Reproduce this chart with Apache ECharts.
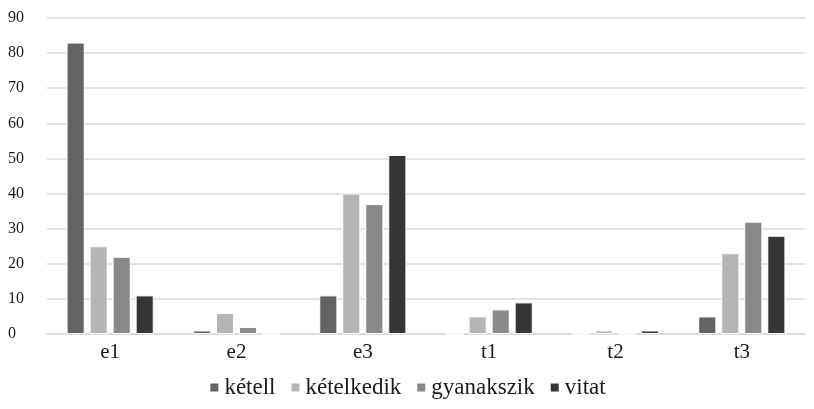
<!DOCTYPE html>
<html>
<head>
<meta charset="utf-8">
<script src="https://cdn.jsdelivr.net/npm/echarts@6/dist/echarts.min.js"></script>
<style>
  html, body { margin: 0; padding: 0; background: #fff; }
  #chart { width: 814px; height: 409px; }
</style>
</head>
<body>
<div id="chart"></div>
<script>
// Categories and per-series counts
const categories = ['e1', 'e2', 'e3', 't1', 't2', 't3'];
const seriesNames = ['kétell', 'kételkedik', 'gyanakszik', 'vitat'];
const ketell = [83, 1, 11, 0, 0, 5];
const ketelkedik = [25, 6, 40, 5, 1, 23];
const gyanakszik = [22, 2, 37, 7, 0, 32];
const vitat = [11, 0, 51, 9, 1, 28];
const yTicks = [0, 10, 20, 30, 40, 50, 60, 70, 80, 90];

const values = [ketell, ketelkedik, gyanakszik, vitat];
const colors = ['#636363', '#b5b5b5', '#898989', '#363636'];
const font = 'Liberation Serif';

const chart = echarts.init(document.getElementById('chart'));
chart.setOption({
  animation: false,
  textStyle: { fontFamily: font },
  grid: { left: 47, right: 9, top: 18, bottom: 75, containLabel: false, outerBoundsMode: 'none' },
  legend: {
    bottom: 5,
    left: 'center',
    icon: 'rect',
    itemWidth: 10,
    itemHeight: 10,
    itemGap: 14,
    formatter: name => '{t|' + name + '}',
    textStyle: {
      fontFamily: font,
      fontSize: 23,
      color: '#1a1a1a',
      rich: { t: { fontFamily: font, fontSize: 23, color: '#1a1a1a' } }
    },
    data: seriesNames
  },
  xAxis: {
    type: 'category',
    data: categories,
    axisTick: { show: false },
    axisLine: { lineStyle: { color: '#d9d9d9', width: 1.5 } },
    axisLabel: { fontFamily: font, fontSize: 21, color: '#1a1a1a', margin: 8 }
  },
  yAxis: {
    type: 'value',
    min: yTicks[0],
    max: yTicks[yTicks.length - 1],
    interval: 10,
    axisLine: { show: false },
    axisTick: { show: false },
    splitLine: { lineStyle: { color: '#d9d9d9', width: 1.5 } },
    axisLabel: {
      fontFamily: font,
      fontSize: 16,
      color: '#1a1a1a',
      margin: 39,
      align: 'left'
    }
  },
  series: seriesNames.map((name, i) => ({
    name: name,
    type: 'bar',
    data: values[i],
    barGap: '27%',
    barCategoryGap: '31%',
    itemStyle: { color: colors[i], borderColor: '#ffffff', borderWidth: 1 }
  }))
});
</script>
</body>
</html>
